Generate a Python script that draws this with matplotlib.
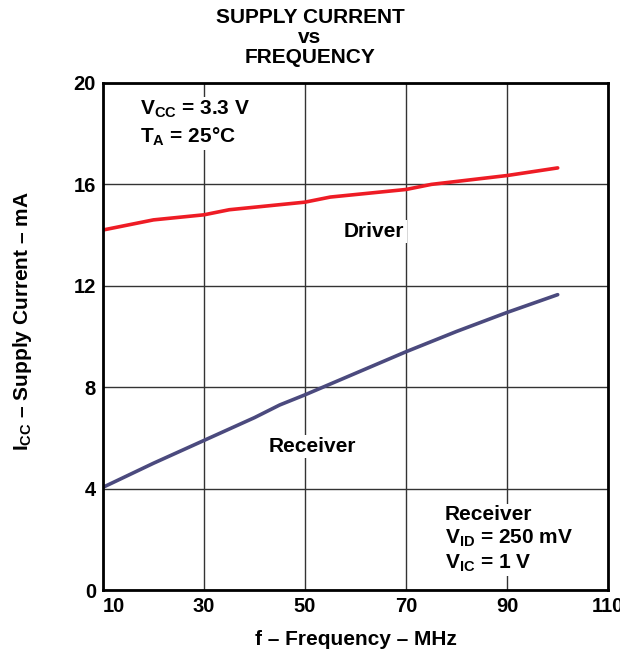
import matplotlib.pyplot as plt

plt.rcParams['font.family'] = ['Liberation Sans', 'DejaVu Sans']
plt.rcParams['font.weight'] = 'bold'
plt.rcParams['mathtext.fontset'] = 'custom'
plt.rcParams['mathtext.rm'] = 'Liberation Sans:bold'
plt.rcParams['mathtext.bf'] = 'Liberation Sans:bold'
plt.rcParams['mathtext.default'] = 'rm'

# data
driver_f = [10, 20, 30, 35, 50, 55, 70, 75, 90, 100]
driver_icc = [14.2, 14.6, 14.8, 15.0, 15.3, 15.5, 15.8, 16.0, 16.35, 16.65]
receiver_f = [10, 20, 30, 40, 45, 50, 60, 70, 80, 90, 100]
receiver_icc = [4.05, 5.0, 5.9, 6.8, 7.3, 7.7, 8.55, 9.4, 10.2, 10.95, 11.65]
x_ticks = [10, 30, 50, 70, 90, 110]
y_ticks = [0, 4, 8, 12, 16, 20]

fig = plt.figure(figsize=(6.2, 6.56), dpi=100)
ax = fig.add_axes([0.166, 0.1006, 0.815, 0.7729])

ax.plot(driver_f, driver_icc, color='#ee1c25', lw=2.6, solid_capstyle='round', zorder=3)
ax.plot(receiver_f, receiver_icc, color='#4b4a7e', lw=2.6, solid_capstyle='round', zorder=3)

ax.set_xlim(10, 110)
ax.set_ylim(0, 20)
ax.set_xticks(x_ticks)
ax.set_yticks(y_ticks)
ax.set_xticklabels([str(v) for v in x_ticks], fontsize=14.5, fontweight='bold')
ax.set_yticklabels([str(v) for v in y_ticks], fontsize=14.5, fontweight='bold')
ax.get_xticklabels()[0].set_horizontalalignment('left')
ax.tick_params(length=0, pad=5)
ax.grid(True, color='#333333', lw=1.0, zorder=1)
for s in ax.spines.values():
    s.set_linewidth(2.0)
    s.set_zorder(4)

ax.set_xlabel('f – Frequency – MHz', fontsize=15, fontweight='bold', labelpad=10)
ax.set_ylabel(r'I$_{CC}$ – Supply Current – mA', fontsize=15, fontweight='bold')
ax.yaxis.set_label_coords(-0.136, 0.53)

box = dict(facecolor='white', edgecolor='none', pad=1.5)
ax.text(17.4, 18.4, r'V$_{CC}$ = 3.3 V' + '\n' + r'T$_{A}$ = 25°C', fontsize=15,
        fontweight='bold', va='center', ha='left', linespacing=1.3, bbox=box, zorder=2)
ax.text(63.7, 14.13, 'Driver', fontsize=15, fontweight='bold', ha='center', va='center',
        bbox=box, zorder=2)
ax.text(51.5, 5.67, 'Receiver', fontsize=15, fontweight='bold', ha='center', va='center',
        bbox=box, zorder=2)
ax.text(77.6, 2.0, 'Receiver\n' + r'V$_{ID}$ = 250 mV' + '\n' + r'V$_{IC}$ = 1 V', fontsize=15,
        fontweight='bold', ha='left', va='center', linespacing=1.25, bbox=box, zorder=2)

for label, yf in [('SUPPLY CURRENT', 0.974), ('vs', 0.943), ('FREQUENCY', 0.912)]:
    fig.text(0.5, yf, label, ha='center', va='center', fontsize=15, fontweight='bold')

fig.savefig('out.png', dpi=100)
